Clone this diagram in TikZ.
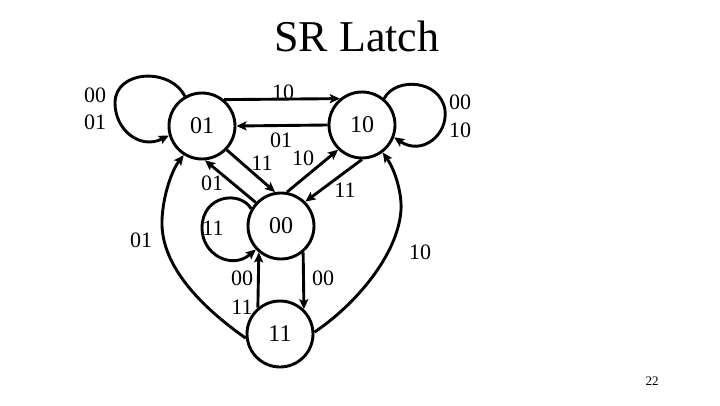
\documentclass[tikz,border=0pt]{standalone}
\usepackage{fontspec}
\setmainfont{Liberation Serif}
\usetikzlibrary{arrows.meta}
\begin{document}
\begin{tikzpicture}[x=1pt,y=1pt,
  state/.style={circle,draw,line width=2.9pt,minimum size=66pt,inner sep=0pt,font=\fontsize{24}{24}\selectfont},
  lbl/.style={inner sep=0pt,font=\fontsize{22}{22}\selectfont},
  arr/.style={line width=2.9pt,-{Stealth[length=10pt,width=9pt,inset=2pt]}},
  every node/.style={text=black}]
\useasboundingbox (0,0) rectangle (720,405);
\node[font=\fontsize{44}{44}\selectfont] (title) at (357,369) {SR Latch};
\node[font=\fontsize{13}{13}\selectfont] (page) at (652,24) {22};
% states
\node[state] (n01) at (202,279) {01};
\node[state] (n10) at (362,280) {10};
\node[state] (n00) at (281,179) {00};
\node[state] (n11) at (280,71) {11};
% straight edges
\draw[arr] (n01.50) -- (n10.130);
\draw[arr] (n10.180) -- (n01.0);
\draw[arr] (n01.-44) -- (n00.100);
\draw[arr] (n00.137) -- (n01.-85);
\draw[arr] (n00.80) -- (n10.226);
\draw[arr] (n10.-90) -- (n00.45);
\draw[arr] (n00.-50) -- (n11.46);
\draw[arr] (n11.130) -- (n00.230);
% self loops
\draw[arr] (n01.120) .. controls (170,338) and (115,335) .. (115,302)
  .. controls (115,275) and (140,255) .. (n01.196);
\draw[arr] (n10.50) .. controls (395,328) and (440,326) .. (445,295)
  .. controls (448,270) and (422,249) .. (n10.-21);
\draw[arr] (n00.150) .. controls (240,215) and (202,210) .. (202,177)
  .. controls (202,150) and (232,135) .. (n00.223);
% long curves
\draw[arr] (n11.187) .. controls (210,92) and (160,135) .. (162,185)
  .. controls (163,210) and (172,235) .. (n01.238);
\draw[arr] (n11.3) .. controls (355,100) and (398,150) .. (401,195)
  .. controls (402,212) and (395,235) .. (n10.-53);
% labels
\node[lbl] (a1) at (95,310) {00};
\node[lbl] (a2) at (95,283) {01};
\node[lbl] (b1) at (283,313) {10};
\node[lbl] (b2) at (281,265) {01};
\node[lbl] (c1) at (262,242) {11};
\node[lbl] (c2) at (303,247) {10};
\node[lbl] (c3) at (212,222) {01};
\node[lbl] (c4) at (345,215) {11};
\node[lbl] (d1) at (213,177) {11};
\node[lbl] (d2) at (141,165) {01};
\node[lbl] (e1) at (242,127) {00};
\node[lbl] (e2) at (242,98) {11};
\node[lbl] (e3) at (323,127) {00};
\node[lbl] (f1) at (420,153) {10};
\node[lbl] (g1) at (460,303) {00};
\node[lbl] (g2) at (460,275) {10};
\end{tikzpicture}
\end{document}
